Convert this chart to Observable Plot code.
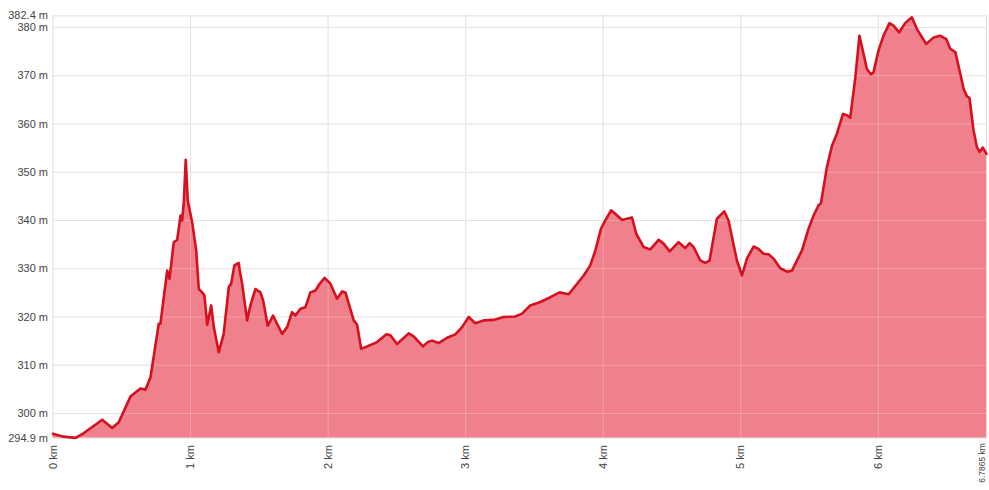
<!DOCTYPE html>
<html>
<head>
<meta charset="utf-8">
<script src="https://cdn.jsdelivr.net/npm/d3@7"></script>
<script src="https://cdn.jsdelivr.net/npm/@observablehq/plot@0.6"></script>
<style>
  html, body { margin: 0; padding: 0; background: #fff; }
  #chart { width: 989px; height: 490px; }
</style>
</head>
<body>
<div id="chart"></div>
<script>
const distanceKm = [0,0.076,0.164,0.222,0.358,0.430,0.478,0.563,0.636,0.672,0.709,0.769,0.781,0.830,0.847,0.878,0.903,0.927,0.939,0.951,0.965,0.980,1.012,1.041,1.060,1.084,1.101,1.121,1.150,1.169,1.205,1.241,1.278,1.295,1.319,1.350,1.358,1.375,1.411,1.435,1.472,1.508,1.528,1.561,1.600,1.629,1.666,1.702,1.738,1.762,1.799,1.835,1.871,1.908,1.939,1.975,2.017,2.065,2.102,2.126,2.186,2.211,2.240,2.283,2.356,2.424,2.453,2.501,2.586,2.622,2.690,2.724,2.756,2.804,2.865,2.925,2.974,3.022,3.070,3.131,3.203,3.276,3.361,3.410,3.470,3.543,3.616,3.683,3.749,3.810,3.858,3.906,3.943,3.984,4.015,4.057,4.088,4.137,4.209,4.241,4.294,4.342,4.403,4.439,4.483,4.548,4.597,4.628,4.657,4.706,4.742,4.773,4.827,4.880,4.911,4.972,5.009,5.045,5.093,5.129,5.166,5.202,5.238,5.287,5.336,5.372,5.445,5.493,5.529,5.565,5.583,5.626,5.663,5.699,5.743,5.772,5.796,5.833,5.863,5.892,5.917,5.946,5.965,6.001,6.038,6.081,6.110,6.152,6.195,6.244,6.281,6.310,6.348,6.401,6.450,6.494,6.523,6.560,6.596,6.620,6.645,6.663,6.692,6.717,6.736,6.760,6.7865];
const elevationM = [295.8,295.2,294.95,295.9,298.7,297.0,298.2,303.5,305.2,304.9,307.5,318.6,318.6,329.6,327.9,335.5,336.0,341.0,340.0,343.8,352.6,344.1,339.6,333.8,325.8,325.1,324.5,318.4,322.4,317.9,312.7,316.5,326.2,326.9,330.7,331.2,329.6,326.9,319.3,322.4,325.8,325.1,323.4,318.2,320.3,318.6,316.5,317.9,321.0,320.3,321.7,322.0,325.1,325.5,326.9,328.1,326.9,323.8,325.3,325.1,319.3,318.4,313.4,313.9,314.8,316.4,316.2,314.4,316.6,316.0,313.9,314.8,315.1,314.6,315.7,316.4,317.9,320.0,318.7,319.3,319.4,320.0,320.1,320.7,322.4,323.1,324.1,325.1,324.7,326.9,328.6,330.7,333.8,338.3,340.0,342.1,341.4,340.1,340.6,337.2,334.5,334.0,336.0,335.2,333.6,335.5,334.3,335.3,334.5,331.7,331.2,331.7,340.4,341.9,340.0,331.7,328.6,332.1,334.6,334.1,333.1,333.0,332.1,330.1,329.4,329.6,333.8,338.3,341.0,343.1,343.6,351.0,355.5,358.0,362.1,361.8,361.3,369.7,378.3,374.6,371.4,370.3,370.7,375.2,378.3,380.9,380.4,379.0,380.9,382.1,379.7,378.3,376.6,377.9,378.3,377.6,375.6,374.9,370.4,367.3,365.7,365.4,358.7,355.2,354.2,355.1,353.8];
const xTicks = [0,1,2,3,4,5,6,6.7865];
const yTicks = [294.9,300,310,320,330,340,350,360,370,380,382.4];
const yMin = 294.9, yMax = 382.4, xMax = 6.7865;

const data = distanceKm.map((km, i) => ({km, elev: elevationM[i]}));
const kmFmt = d => `${d} km`;

const chart = Plot.plot({
  width: 989,
  height: 490,
  marginLeft: 52.5,
  marginRight: 3,
  marginTop: 15.4,
  marginBottom: 52.4,
  style: {fontFamily: "'Liberation Sans', Arial, sans-serif", fontSize: "11px", color: "#444", background: "#fff"},
  x: {domain: [0, xMax], label: null},
  y: {domain: [yMin, yMax], label: null},
  marks: [
    Plot.gridX(xTicks, {stroke: "#dcdcdc", strokeOpacity: 1, strokeWidth: 1}),
    Plot.gridY(yTicks, {stroke: "#dcdcdc", strokeOpacity: 1, strokeWidth: 1}),
    Plot.areaY(data, {x: "km", y1: () => yMin, y2: "elev", fill: "#f0808c", fillOpacity: 1}),
    Plot.gridX(xTicks.slice(1, -1), {stroke: "#ffffff", strokeOpacity: 0.25, strokeWidth: 1}),
    Plot.gridY(yTicks.slice(1, -1), {stroke: "#ffffff", strokeOpacity: 0.25, strokeWidth: 1}),
    Plot.lineY(data, {x: "km", y: "elev", stroke: "#d5101f", strokeWidth: 2.6, strokeLinejoin: "round"}),
    Plot.axisX({ticks: xTicks.slice(0, -1), tickFormat: kmFmt, tickRotate: -90, tickSize: 0, tickPadding: 7, fill: "#444"}),
    Plot.axisX({ticks: xTicks.slice(-1), tickFormat: kmFmt, tickRotate: -90, tickSize: 0, tickPadding: 5, fill: "#444", fontSize: 8.5, dx: -4}),
    Plot.axisY({ticks: yTicks, tickFormat: d => `${d} m`, tickSize: 0, tickPadding: 5, fill: "#444"})
  ]
});
document.getElementById("chart").appendChild(chart);
</script>
</body>
</html>
